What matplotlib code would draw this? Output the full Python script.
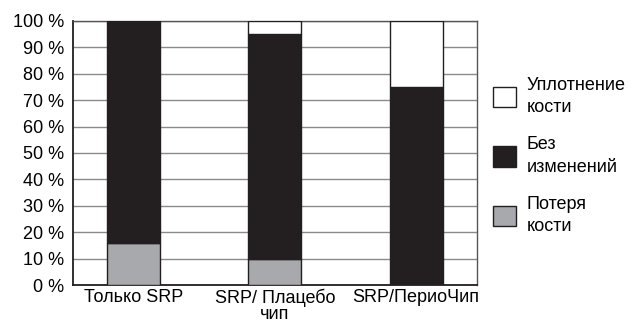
import matplotlib
matplotlib.use("Agg")
import matplotlib.pyplot as plt
from matplotlib.patches import Patch

plt.rcParams['font.family'] = ['Liberation Sans', 'DejaVu Sans']

categories = ["Только SRP", "SRP/ Плацебо\nчип", "SRP/ПериоЧип"]
loss = [16, 10, 0]          # Потеря кости
nochange = [84, 85, 75]     # Без изменений
gain = [0, 5, 25]           # Уплотнение кости
legend_labels = ["Уплотнение\nкости", "Без\nизменений", "Потеря\nкости"]
yticks = [0, 10, 20, 30, 40, 50, 60, 70, 80, 90, 100]

c_black = "#231f20"
c_gray = "#a7a9ac"
c_edge = "#231f20"
fs = 13
lfs = 13

fig = plt.figure(figsize=(6.38, 3.22), dpi=100)
ax = fig.add_axes([0.1144, 0.1149, 0.633, 0.820])

x = list(range(len(categories)))
w = 0.375
ax.bar(x, loss, w, color=c_gray, edgecolor=c_edge, linewidth=1.0, zorder=3)
ax.bar(x, nochange, w, bottom=loss, color=c_black, edgecolor=c_edge, linewidth=1.0, zorder=3)
bottoms2 = [a + b for a, b in zip(loss, nochange)]
ax.bar(x, gain, w, bottom=bottoms2, color="white", edgecolor=c_edge, linewidth=1.0, zorder=3)

ax.set_xlim(-0.43, 2.43)
ax.set_ylim(0, 100)
ax.set_yticks(yticks)
ax.set_yticklabels([f"{v} %" for v in yticks], fontsize=fs)
ax.set_xticks(x)
ax.set_xticklabels(categories, fontsize=fs, linespacing=0.9)
ax.tick_params(axis='y', length=0, pad=6.5)
ax.tick_params(axis='x', length=0, pad=3)
ax.yaxis.grid(True, color="#8a8a8a", linewidth=1.0, zorder=0)
ax.set_axisbelow(True)

for s in ['left', 'bottom']:
    ax.spines[s].set_color("#231f20")
    ax.spines[s].set_linewidth(1.3)
for s in ['top', 'right']:
    ax.spines[s].set_color("#555555")
    ax.spines[s].set_linewidth(1.0)

handles = [Patch(facecolor="white", edgecolor=c_edge, linewidth=1.0),
           Patch(facecolor=c_black, edgecolor=c_edge, linewidth=1.0),
           Patch(facecolor=c_gray, edgecolor=c_edge, linewidth=1.0)]
leg = fig.legend(handles, legend_labels, loc="upper left",
                 bbox_to_anchor=(493 / 638, 1 - 77 / 322), frameon=False, fontsize=lfs,
                 handlelength=1.28, handleheight=1.39, handletextpad=0.6,
                 labelspacing=1.12, borderaxespad=0, borderpad=0)
for t in leg.get_texts():
    t.set_linespacing(1.4)

fig.savefig("out.png", dpi=100)
